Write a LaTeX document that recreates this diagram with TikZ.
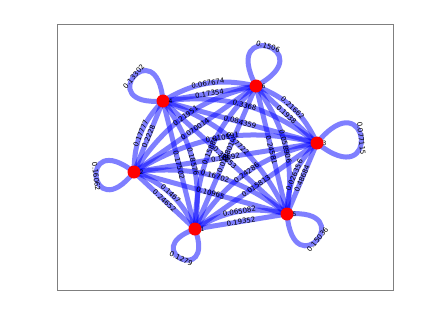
\documentclass[tikz,border=0pt]{standalone}
\usepackage{fontspec}
\setmainfont{DejaVu Sans}
\usepackage{xcolor}
\usepackage{tikz}
\usetikzlibrary{calc}
\definecolor{WireBlue}{HTML}{0000FF}
\definecolor{DotRed}{HTML}{FF0000}
\definecolor{FrameGrey}{HTML}{7F7F7F}
%% a/b/straight weight/bent weight, every pair bends to the left of a->b
\newcommand\wirepairs{2/4/0.2228/0.17777, 2/1/0.24652/0.1467, 2/6/0.070014/0.21951,
  2/5/0.10965/0.16702, 2/3/0.16692/0.010191, 4/1/0.17502/0.18576,
  4/6/0.17354/0.067674, 4/5/0.32853/0.37722, 4/3/0.084359/0.3368,
  1/6/0.018801/0.15881, 1/5/0.19352/0.065082, 1/3/0.015813/0.24286,
  6/5/0.24581/0.058906, 6/3/0.1938/0.21662, 5/3/0.48684/0.026356}
%% vertex/direction/reach/weight
\newcommand\selfloops{4/140/72/0.13302, 6/73/78/0.1506, 3/6/84/0.077115,
  5/-40/75/0.15036, 1/-115/62/0.1279, 2/187/72/0.16062}

\begin{document}
\begin{tikzpicture}[x=1pt, y=1pt, font=\fontsize{7}{8}\selectfont,
  vert/.style={circle, fill=DotRed, inner sep=0pt, minimum size=13pt},
  wire/.style={WireBlue, line width=5pt, draw opacity=0.5},
  wlab/.style={sloped, text=black, inner sep=0.5pt},
  tag/.style={text=black, inner sep=0pt, font=\fontsize{6}{6}\selectfont}]
\useasboundingbox (0,0) rectangle (436,-327);
\draw[FrameGrey, line width=0.8pt] (57,-24) rectangle (393,-290);
%% vertices (placed first, painted last)
\path (163,-101) coordinate (n4) (256,-86) coordinate (n6) (317,-143) coordinate (n3)
      (287,-214) coordinate (n5) (195,-229) coordinate (n1) (134,-172) coordinate (n2);
%% two wires per pair: one straight, one bent
\foreach \a/\b/\s/\c in \wirepairs
  {\draw[wire] (n\a) -- (n\b);
   \draw[wire] (n\a) to[bend left=22] (n\b);}
\foreach \v/\d/\r/\w [evaluate=\d as \o using \d+45, evaluate=\d as \i using \d-45] in \selfloops
  {\draw[wire] (n\v) to[out=\o, in=\i, distance=\r pt] (n\v);}
%% weights on top of the wires
\foreach \a/\b/\s/\c in \wirepairs
  {\path (n\a) -- node[wlab] (s\a\b) {\s} (n\b);
   \path (n\a) to[bend left=22] node[wlab] (c\a\b) {\c} (n\b);}
\foreach \v/\d/\r/\w [evaluate=\d as \o using \d+45, evaluate=\d as \i using \d-45] in \selfloops
  {\path (n\v) to[out=\o, in=\i, distance=\r pt] node[wlab] (w\v) {\w} (n\v);}
\foreach \v in {1,...,6}
  {\node[vert] (d\v) at (n\v) {};
   \node[tag] (t\v) at ([xshift=7.5pt]n\v) {\v};}
\end{tikzpicture}
\end{document}
